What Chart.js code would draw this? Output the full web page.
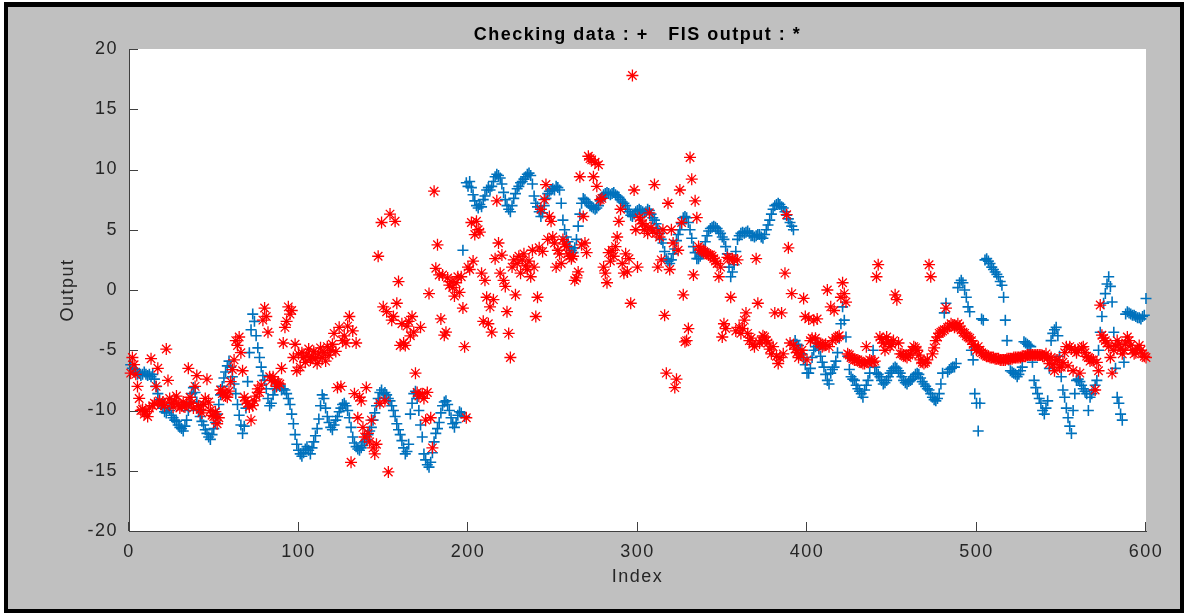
<!DOCTYPE html>
<html>
<head>
<meta charset="utf-8">
<script src="https://cdn.jsdelivr.net/npm/chart.js@4.4.1/dist/chart.umd.min.js"></script>
<style>
  html, body { margin: 0; padding: 0; background: #fff; }
  #moldura { position: absolute; left: 4px; top: 2px; width: 1180px; height: 611px; box-sizing: border-box;
             border: 4px solid #000; border-top-width: 5px; background: #c0c0c0; }
  #caixa { position: absolute; left: 0; top: 0; width: 1186px; height: 613px; }
</style>
</head>
<body>
<div id="moldura"></div>
<div id="caixa"><canvas id="grafico" width="1186" height="613"></canvas></div>
<script>
// Checking data (+), indices 1..600
const checkingData = [
  -6.2, -6.5, -6.8, -6.6, -7.0, -6.9, -7.1, -7.0, -6.8, -7.0,
  -7.1, -7.0, -7.2, -7.0, -7.4, -8.0, -8.6, -9.1, -9.5, -9.8,
  -10.1, -10.2, -9.8, -10.0, -10.4, -10.6, -10.8, -10.9, -11.2, -11.4,
  -11.5, -11.7, -11.3, -10.8, -10.0, -9.3, -8.6, -8.1, -8.5, -9.3,
  -10.0, -10.5, -10.9, -11.2, -11.6, -11.9, -12.2, -12.4, -12.0, -11.5,
  -11.0, -10.3, -9.5, -8.7, -8.0, -7.3, -6.8, -6.3, -5.9, -6.4,
  -7.2, -7.8, -8.6, -9.5, -10.4, -11.2, -11.9, -11.3, -9.8, -7.6,
  -5.2, -3.3, -2.0, -2.6, -3.8, -4.8, -5.6, -6.4, -7.1, -7.5,
  -8.2, -9.0, -9.6, -9.4, -8.7, -8.2, -8.0, -7.8, -8.0, -8.3,
  -8.2, -8.3, -8.6, -9.0, -9.5, -10.3, -11.1, -12.0, -12.8, -13.3,
  -13.6, -13.8, -13.5, -13.2, -13.0, -13.3, -13.6, -13.1, -12.6, -12.1,
  -11.5, -10.7, -9.6, -8.7, -9.0, -9.8, -10.5, -11.0, -11.4, -11.6,
  -11.2, -10.8, -10.5, -10.1, -9.8, -9.5, -9.4, -9.6, -10.0, -10.6,
  -11.4, -12.2, -12.7, -13.0, -13.2, -13.3, -13.1, -12.9, -12.6, -12.4,
  -12.0, -11.7, -11.4, -10.8, -10.2, -9.6, -9.0, -8.5, -8.3, -8.6,
  -8.5, -8.7, -9.0, -9.2, -9.6, -10.0, -10.5, -11.1, -11.6, -12.0,
  -12.5, -13.1, -13.6, -13.4, -12.8, -10.3, -9.4, -8.6, -8.4, -9.0,
  -10.0, -11.2, -12.2, -13.6, -14.1, -14.5, -14.7, -14.3, -13.5, -12.6,
  -11.9, -11.5, -11.0, -10.2, -9.6, -9.3, -9.2, -9.5, -10.0, -10.6,
  -11.1, -11.4, -11.0, -10.4, -10.1, -10.2, 3.3, -10.5, 8.9, 8.6,
  9.0, 8.5, 7.9, 7.4, 7.0, 6.8, 7.1, 6.9, 7.5, 7.8,
  8.3, 8.5, 8.3, 8.6, 9.0, 9.4, 9.6, 9.5, 9.3, 8.8,
  8.1, 7.5, 7.0, 6.7, 6.5, 7.0, 7.6, 8.0, 8.4, 8.6,
  8.9, 9.0, 9.2, 9.4, 9.6, 9.7, 9.5, 8.8, 7.8, 7.2,
  6.9, 6.5, 6.1, 6.4, 7.0, 7.6, 8.0, 8.2, 8.3, 8.4,
  8.3, 8.6, 8.5, 8.3, 7.2, 5.8, 5.0, 4.4, 4.0, 3.6,
  3.3, 3.1, 3.5, 4.2, 5.3, 6.3, 7.2, 7.6, 7.5, 7.3,
  7.2, 7.0, 6.9, 6.8, 6.7, 6.8, 7.0, 7.4, 7.7, 7.9,
  8.0, 8.1, 8.0, 7.9, 8.0, 8.1, 7.9, 7.8, 7.7, 7.5,
  7.3, 7.2, 7.0, 6.7, 6.5, 6.2, 6.1, 6.3, 6.5, 6.6,
  6.7, 6.6, 6.5, 6.4, 6.5, 6.7, 6.6, 6.3, 6.0, 5.8,
  5.5, 5.1, 4.7, 4.2, 3.9, 3.2, 2.6, 2.4, 2.2, 2.5,
  3.0, 3.4, 4.1, 4.6, 5.0, 5.5, 6.0, 6.1, 6.0, 5.6,
  5.0, 4.3, 3.6, 3.1, 2.6, 2.6, 2.8, 3.0, 3.4, 4.0,
  4.5, 4.9, 5.1, 5.2, 5.3, 5.2, 5.1, 4.9, 4.7, 4.4,
  4.2, 3.6, 3.0, 1.9, 1.1, 1.5, 2.1, 3.2, 4.2, 4.5,
  4.7, 4.8, 4.7, 4.8, 4.9, 4.7, 4.5, 4.5, 4.4, 4.5,
  4.6, 4.6, 4.4, 4.3, 4.6, 5.0, 5.4, 5.8, 6.3, 6.7,
  7.0, 7.1, 7.2, 7.1, 6.9, 6.8, 6.5, 6.2, 5.9, 5.6,
  5.3, 5.0, -4.2, -4.5, -4.6, -5.0, -5.3, -5.6, -6.2, -6.9,
  -6.9, -6.5, -5.6, -5.0, -4.7, -4.4, -4.9, -5.5, -6.0, -6.4,
  -7.0, -7.5, -7.8, -6.9, -6.6, -6.4, -5.9, -5.2, -4.0, -2.8,
  -1.4, -2.5, -3.9, -5.5, -6.6, -7.2, -7.4, -7.5, -7.9, -8.2,
  -8.4, -8.6, -8.9, -8.3, -7.9, -7.5, -6.9, -6.0, -5.0, -6.4,
  -6.9, -7.0, -7.2, -7.5, -7.8, -7.7, -7.5, -7.2, -6.9, -6.7,
  -6.5, -6.4, -6.5, -6.7, -6.9, -7.2, -7.5, -7.7, -7.8, -7.6,
  -7.5, -7.4, -7.2, -7.0, -6.9, -7.0, -7.3, -7.6, -7.8, -8.0,
  -8.2, -8.3, -8.6, -8.9, -9.1, -9.2, -9.0, -8.6, -7.8, -6.9,
  -1.9, -1.1, -6.8, -6.6, -6.5, -6.4, -6.4, -6.1, 0.2, 0.6,
  0.8, 0.6, 0.0, -0.6, -1.4, -1.8, -5.0, -5.8, -8.6, -9.4,
  -11.7, -9.4, -2.4, -2.5, 2.5, 2.6, 2.4, 2.2, 1.9, 1.7,
  1.5, 1.3, 1.1, 0.7, 0.4, -0.6, -2.5, -4.2, -5.8, -6.7,
  -6.8, -6.9, -7.0, -7.2, -7.0, -6.7, -6.4, -4.3, -4.4, -4.5,
  -4.6, -4.7, -6.0, -7.5, -8.1, -8.6, -9.0, -9.4, -10.0, -10.3,
  -9.8, -9.2, -6.5, -4.2, -3.6, -3.3, -3.1, -3.8, -5.5, -7.2,
  -8.3, -8.9, -9.8, -10.6, -11.3, -11.9, -10.0, -8.6, -7.5, -7.4,
  -7.6, -7.9, -8.2, -8.4, -8.6, -10.0, -8.9, -8.6, -8.3, -7.9,
  -7.5, -5.0, -3.5, -2.2, -1.1, -0.3, 0.5, 1.1, 0.3, -1.0,
  -3.5, -6.5, -8.9, -9.4, -10.3, -10.8, -6.0, -2.0, -1.8, -1.9,
  -2.0, -2.1, -2.1, -2.2, -2.3, -2.3, -2.4, -2.2, -2.1, -0.7
];

// FIS output (*), indices 1..600
const fisOutput = [
  -6.9, -5.6, -6.2, -7.0, -8.0, -9.0, -10.0, -9.9, -10.3, -10.1,
  -10.5, -9.8, -5.7, -9.6, -9.4, -8.0, -6.5, -9.2, -9.5, -9.3,
  -9.6, -4.9, -7.5, -9.0, -9.4, -9.7, -9.2, -8.8, -9.5, -9.8,
  -9.6, -9.3, -9.7, -9.5, -6.5, -8.9, -9.4, -9.8, -8.0, -7.1,
  -9.6, -9.9, -10.2, -9.5, -9.0, -7.4, -9.3, -10.0, -10.4, -10.5,
  -10.1, -11.1, -10.6, -8.3, -8.6, -8.5, -8.8, -8.9, -8.4, -7.6,
  -6.6, -5.8, -4.2, -4.6, -3.9, -5.2, -6.7, -8.9, -9.2, -9.4,
  -9.7, -10.8, -9.6, -9.2, -8.8, -8.2, -8.5, -7.9, -2.5, -1.5,
  -2.2, -3.5, -7.2, -7.5, -7.2, -7.6, -8.0, -7.7, -7.8, -6.5,
  -4.4, -3.1, -2.6, -1.4, -2.0, -1.7, -5.6, -4.5, -6.7, -5.3,
  -6.4, -5.2, -5.6, -6.0, -5.4, -4.9, -5.8, -5.5, -5.1, -5.7,
  -6.1, -5.3, -4.8, -5.6, -5.2, -5.9, -4.7, -5.4, -5.0, -4.5,
  -3.6, -5.1, -8.1, -3.1, -8.0, -4.2, -3.8, -4.4, -3.0, -2.2,
  -14.3, -3.4, -8.6, -4.4, -10.6, -8.9, -9.2, -11.4, -12.2, -8.1,
  -11.9, -12.6, -10.8, -13.1, -13.6, -12.8, 2.8, -9.4, 5.6, -1.4,
  -9.2, -1.8, -15.1, 6.3, -2.5, -2.2, 5.7, -1.1, 0.7, -4.6,
  -2.8, -4.4, -4.6, -3.0, -2.6, -3.8, -2.2, -3.5, -6.9, -8.5,
  -8.8, -3.1, -8.6, -9.0, -10.8, -8.5, -0.3, -10.6, -13.1, 8.2,
  1.8, 3.75, 1.25, -2.4, 1.25, -3.75, -3.5, 1.0, 0.4, 0.7,
  0.2, -0.5, 0.6, 1.1, -0.2, 1.1, -1.5, -4.7, -10.6, 1.9,
  1.7, 5.6, 2.4, 4.6, 5.7, 5.0, 4.8, 1.4, -2.6, 0.8,
  -0.6, -2.8, -1.4, -3.5, -0.8, 2.6, 7.4, 3.9, 1.4, 2.9,
  0.8, 0.3, -1.8, -3.6, -5.6, 1.9, 2.5, -0.4, 2.2, 2.8,
  1.4, 2.5, 3.0, 2.0, 1.7, 2.4, 1.1, 3.3, 1.9, -2.2,
  -0.6, 3.5, 6.7, 3.2, 7.5, 8.75, 4.2, 6.1, 5.7, 4.4,
  3.9, 1.9, 3.3, 3.0, 2.2, 4.2, 3.8, 3.6, 3.0, 2.8,
  2.6, 2.8, 0.8, 1.0, 1.5, 9.4, 3.75, 6.1, 3.9, 3.1,
  11.1, 10.9, 10.8, 9.4, 10.6, 8.6, 10.4, 7.5, 7.6, 1.9,
  1.4, 0.6, 3.1, 2.4, 3.3, 2.8, 3.6, 4.4, 5.7, 6.7,
  2.2, 1.4, 3.0, 1.5, 2.6, -1.1, 17.8, 8.3, 5.0, 1.9,
  6.0, 5.8, 5.5, 5.0, 5.3, 4.7, 6.4, 5.2, 4.9, 8.75,
  4.7, 1.9, 4.4, 2.5, 5.0, -2.1, -6.9, 7.2, 1.7, 5.0,
  3.9, -8.1, -7.4, 3.3, 8.3, 5.6, -0.4, -4.3, -4.2, -3.2,
  11.0, 9.2, 1.25, 7.4, 6.0, 3.6, 3.4, 3.3, 3.2, 3.1,
  3.0, 2.9, 2.9, 2.8, 2.6, 2.4, 2.2, 1.1, 1.9, -3.9,
  -2.8, -3.2, 2.7, 2.6, -0.6, 2.6, 2.5, -3.4, 2.5, -3.1,
  -3.6, -3.2, -2.5, -1.9, -3.6, -4.2, -4.0, -4.5, -4.7, 2.6,
  -1.1, -4.4, -4.2, -3.8, -3.9, -4.2, -4.4, -4.9, -5.3, -4.7,
  -1.9, -5.5, -6.1, -5.6, -1.9, -5.3, 1.4, 6.25, 3.5, -4.4,
  -0.3, -4.6, -4.9, -5.2, -5.6, -5.4, -5.0, -0.7, -2.2, -5.8,
  -2.4, -4.2, -4.0, -2.5, -4.0, -2.4, -4.4, -4.5, -4.7, -4.6,
  -4.5, 0.0, -4.7, -1.4, -4.2, -1.7, -4.0, -3.9, -3.8, -0.6,
  0.6, -0.3, -1.0, -5.3, -5.4, -5.6, -5.7, -5.8, -5.8, -5.8,
  -5.9, -6.0, -6.1, -6.1, -4.7, -6.0, -5.8, -5.9, -6.0, -5.9,
  1.1, 2.1, -3.9, -4.1, -4.4, -5.0, -3.9, -4.3, -4.7, -4.5,
  -4.2, -0.4, -0.8, -4.4, -5.3, -5.3, -5.4, -5.5, -5.6, -5.4,
  -5.3, -5.0, -4.7, -4.8, -5.0, -5.4, -5.8, -6.0, -6.1, -6.0,
  -5.8, 2.1, 1.1, -5.3, -4.8, -4.2, -3.9, -3.6, -3.5, -3.4,
  -3.3, -1.5, -3.1, -3.0, -2.8, -2.9, -3.1, -3.0, -2.8, -3.0,
  -3.3, -3.5, -3.6, -3.8, -3.9, -4.0, -4.2, -4.5, -4.7, -5.0,
  -4.7, -5.0, -5.2, -5.3, -5.4, -5.5, -5.5, -5.6, -5.6, -5.6,
  -5.7, -5.7, -5.7, -5.8, -5.8, -5.8, -5.8, -5.7, -5.7, -5.7,
  -5.7, -5.6, -5.6, -5.6, -5.6, -5.6, -5.5, -5.5, -5.5, -5.4,
  -5.4, -5.4, -5.4, -5.4, -5.4, -5.4, -5.4, -5.4, -5.5, -5.5,
  -5.3, -5.6, -6.1, -5.6, -6.2, -6.7, -5.8, -5.8, -6.4, -6.4,
  -6.0, -5.2, -4.7, -6.3, -4.7, -4.9, -6.7, -5.0, -5.2, -5.0,
  -6.9, -4.8, -4.7, -5.2, -5.5, -5.6, -5.9, -5.8, -5.8, -8.3,
  -6.0, -6.7, -1.25, -3.75, -4.0, -4.2, -4.4, -4.7, -5.6, -6.9,
  -5.0, -4.6, -4.2, -4.5, -4.9, -5.3, -5.0, -4.4, -3.9, -4.2,
  -4.6, -5.0, -5.3, -5.2, -4.9, -4.6, -5.0, -5.3, -5.5, -5.6
];

const xLimites = [0, 600];
const yLimites = [-20, 20];
const tituloGrafico = 'Checking data : +   FIS output : *';
const tituloX = 'Index';
const tituloY = 'Output';

const fonte = "'Liberation Sans', Arial, Helvetica, sans-serif";
Chart.defaults.font.family = fonte;

// positions in the data arrays start at index 1 (MATLAB style)
const pontosChecking = checkingData.map((v, i) => ({ x: i + 1, y: v }));
const pontosFis = fisOutput.map((v, i) => ({ x: i + 1, y: v }));

// fundo branco da área do gráfico + marcas de escala para dentro
const eixosMatlab = {
  id: 'eixosMatlab',
  beforeDraw(chart) {
    const { ctx, chartArea: a } = chart;
    ctx.letterSpacing = '1.5px';
    ctx.save();
    ctx.fillStyle = '#ffffff';
    ctx.fillRect(a.left, a.top, a.right - a.left, a.bottom - a.top);
    ctx.restore();
  },
  afterDraw(chart) {
    const { ctx, chartArea: a, scales: { x, y } } = chart;
    ctx.save();
    ctx.strokeStyle = '#404040';
    ctx.lineWidth = 1;
    ctx.beginPath();
    x.ticks.forEach(t => {
      const px = Math.round(x.getPixelForValue(t.value)) - 0.5;
      ctx.moveTo(px, a.bottom);
      ctx.lineTo(px, a.bottom - 9);
    });
    y.ticks.forEach(t => {
      const py = Math.round(y.getPixelForValue(t.value)) + 0.5;
      ctx.moveTo(a.left, py);
      ctx.lineTo(a.left + 9, py);
    });
    ctx.stroke();
    ctx.restore();
  }
};

const ctx = document.getElementById('grafico');

new Chart(ctx, {
  type: 'scatter',
  data: {
    datasets: [
      {
        label: 'FIS output',
        data: pontosFis,
        pointStyle: 'star',
        pointRadius: 6,
        borderColor: '#ff0000',
        backgroundColor: '#ff0000',
        pointBorderWidth: 1.3,
        clip: false,
        order: 0
      },
      {
        label: 'Checking data',
        data: pontosChecking,
        pointStyle: 'cross',
        pointRadius: 5.5,
        borderColor: '#0072bd',
        backgroundColor: '#0072bd',
        pointBorderWidth: 1.6,
        clip: false,
        order: 1
      }
    ]
  },
  options: {
    responsive: false,
    animation: false,
    events: [],
    layout: { padding: { left: 0, right: 40, top: 0, bottom: 0 } },
    plugins: {
      legend: { display: false },
      tooltip: { enabled: false },
      title: {
        display: true,
        fullSize: false,
        text: tituloGrafico,
        color: '#000',
        font: { size: 18, weight: 'bold' },
        padding: { top: 24, bottom: 3.4 }
      }
    },
    scales: {
      x: {
        type: 'linear',
        min: xLimites[0],
        max: xLimites[1],
        grid: { display: false, drawTicks: false },
        border: { display: true, color: '#404040', width: 1 },
        ticks: { stepSize: 100, color: '#262626', font: { size: 18 }, padding: 10, maxRotation: 0 },
        title: { display: true, text: tituloX, color: '#262626', font: { size: 18 }, padding: { top: 4, bottom: 25 } },
        afterFit: s => { s.height = 82; }
      },
      y: {
        type: 'linear',
        min: yLimites[0],
        max: yLimites[1],
        grid: { display: false, drawTicks: false },
        border: { display: true, color: '#404040', width: 1 },
        ticks: { stepSize: 5, color: '#262626', font: { size: 18 }, padding: 11 },
        title: { display: true, text: tituloY, color: '#262626', font: { size: 18 }, padding: { top: 57, bottom: 0 } },
        afterFit: s => { s.width = 129; }
      }
    }
  },
  plugins: [eixosMatlab]
});
</script>
</body>
</html>
